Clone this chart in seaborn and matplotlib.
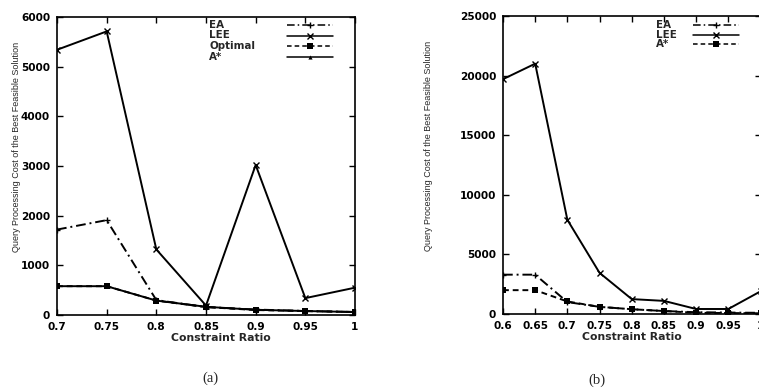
import numpy as np
import matplotlib
matplotlib.use("Agg")
import matplotlib.pyplot as plt
from matplotlib.lines import Line2D
import seaborn as sns

# ---- data ----
ratio_a = [0.7, 0.75, 0.8, 0.85, 0.9, 0.95, 1.0]
ea_a = [1720, 1910, 300, 160, 110, 80, 60]
lee_a = [5340, 5710, 1320, 190, 3020, 340, 550]
optimal_a = [580, 580, 290, 160, 100, 80, 60]
astar_a = [580, 580, 290, 165, 105, 80, 60]

ratio_b = [0.6, 0.65, 0.7, 0.75, 0.8, 0.85, 0.9, 0.95, 1.0]
ea_b = [3300, 3300, 1000, 600, 400, 250, 150, 120, 100]
lee_b = [19700, 21000, 7900, 3450, 1250, 1100, 420, 420, 1900]
astar_b = [2000, 2000, 1050, 600, 400, 250, 100, 80, 60]

ylabel = "Query Processing Cost of the Best Feasible Solution"
xlabel = "Constraint Ratio"

sns.set_style("ticks")
plt.rcParams["font.family"] = ["DejaVu Sans"]

W, H = 759, 389
fig = plt.figure(figsize=(W / 100, H / 100), dpi=100)

def px_axes(x0, y0, x1, y1):
    return fig.add_axes([x0 / W, 1 - y1 / H, (x1 - x0) / W, (y1 - y0) / H])

ax1 = px_axes(57, 17, 355, 315)
ax2 = px_axes(503, 16, 760.5, 314)

dashdot = (0, (5, 2, 1, 2))
dashed = (0, (3, 2))
styles = {
    "EA": dict(marker="+", linestyle=dashdot, markersize=5, mew=1),
    "LEE": dict(marker="x", linestyle="-", markersize=4, mew=1),
    "Optimal": dict(marker="s", linestyle=dashed, markersize=4, mew=0),
    "A*": dict(marker="^", linestyle="-", markersize=3, mew=0),
    "A*b": dict(marker="s", linestyle=dashed, markersize=4, mew=0),
}

def draw(ax, x, y, key):
    sns.lineplot(x=x, y=y, ax=ax, color="black", linewidth=1.4,
                 mec="black", mfc="black", legend=False, **styles[key])

draw(ax1, ratio_a, ea_a, "EA")
draw(ax1, ratio_a, lee_a, "LEE")
draw(ax1, ratio_a, optimal_a, "Optimal")
draw(ax1, ratio_a, astar_a, "A*")

draw(ax2, ratio_b, ea_b, "EA")
draw(ax2, ratio_b, lee_b, "LEE")
draw(ax2, ratio_b, astar_b, "A*b")

tick_font = dict(family="DejaVu Sans", weight="bold", size=7.6)

def style_axes(ax, xlim, ylim, xticks, yticks, xtlabels, ylab_x, xlab_x):
    ax.set_xlim(*xlim)
    ax.set_ylim(*ylim)
    ax.set_xticks(xticks)
    ax.set_yticks(yticks)
    ax.set_xticklabels(xtlabels, fontdict=tick_font)
    ax.set_yticklabels([str(v) for v in yticks], fontdict=tick_font)
    ax.tick_params(direction="in", length=4, width=1, top=True, right=True,
                   colors="black")
    ax.tick_params(axis="x", pad=5)
    ax.tick_params(axis="y", pad=5)
    for s in ax.spines.values():
        s.set_linewidth(1.2)
        s.set_color("black")
    ax.set_ylabel(ylabel, family="Liberation Sans", size=6.5)
    ax.yaxis.set_label_coords(ylab_x, 0.565)
    ax.set_xlabel(xlabel, family="DejaVu Sans", weight="bold", size=7.8)
    ax.xaxis.set_label_coords(xlab_x, -0.06)

style_axes(ax1, (0.7, 1.0), (0, 6000), ratio_a, list(range(0, 6001, 1000)),
           ["0.7", "0.75", "0.8", "0.85", "0.9", "0.95", "1"], -0.122, 0.55)
style_axes(ax2, (0.6, 1.0), (0, 25000), ratio_b, list(range(0, 25001, 5000)),
           ["0.6", "0.65", "0.7", "0.75", "0.8", "0.85", "0.9", "0.95", "1"],
           -0.272, 0.5)

# gnuplot-style key: label on the left, sample on the right
def key_entry(label, key, xt, x0, x1, y):
    fig.text(xt / W, 1 - y / H, label, family="DejaVu Sans", weight="bold",
             size=7.4, ha="left", va="center")
    st = styles[key]
    fig.add_artist(Line2D([x0 / W, x1 / W], [1 - y / H, 1 - y / H],
                          transform=fig.transFigure, color="black", lw=1.1,
                          linestyle=st["linestyle"]))
    fig.add_artist(Line2D([(x0 + x1) / 2 / W], [1 - y / H],
                          transform=fig.transFigure, color="black",
                          marker=st["marker"], markersize=st["markersize"],
                          mew=st["mew"], mec="black", mfc="black"))

for lab, key, y in (("EA", "EA", 25), ("LEE", "LEE", 35.5),
                    ("Optimal", "Optimal", 46), ("A*", "A*", 56.5)):
    key_entry(lab, key, 209, 287, 333, y)

for lab, key, y in (("EA", "EA", 25), ("LEE", "LEE", 34.5), ("A*", "A*b", 44)):
    key_entry(lab, key, 656, 693, 739, y)

fig.text(210 / W, 1 - 378 / H, "(a)", family="Liberation Serif", size=10.5,
         ha="center", va="center")
fig.text(597 / W, 1 - 380 / H, "(b)", family="Liberation Serif", size=10.5,
         ha="center", va="center")

fig.savefig("out.png", dpi=100)
